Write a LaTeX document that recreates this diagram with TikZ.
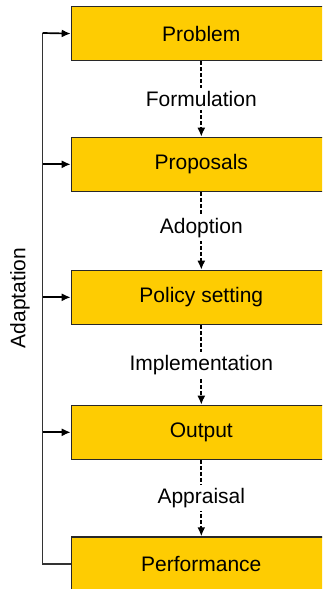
\documentclass[tikz,border=0pt]{standalone}
\usepackage{fontspec}
\setmainfont{Liberation Sans}
\usetikzlibrary{arrows.meta}
\definecolor{boxyellow}{RGB}{254,204,2}
\definecolor{boxedge}{RGB}{40,40,40}
\begin{document}
\begin{tikzpicture}[x=1pt,y=-1pt,
  stagebox/.style={draw=boxedge,line width=1.2pt,fill=boxyellow,minimum width=260pt,
    minimum height=54pt,anchor=north west,inner sep=0pt,
    font=\fontsize{21}{25}\selectfont},
  flow/.style={line width=1.7pt,dash pattern=on 4pt off 2pt,
    -{Latex[length=9pt,width=8pt]}},
  flowlabel/.style={fill=white,inner sep=3pt,font=\fontsize{21}{25}\selectfont},
  feed/.style={line width=1.7pt,-{Latex[length=9pt,width=8pt]}},
  rail/.style={line width=1.2pt,draw=black!80}]
\useasboundingbox (0,0) rectangle (322,589);
\clip (0,0) rectangle (322,589);
% stages of the policy cycle
\node[stagebox] (prob) at (70.7,6) {Problem};
\node[stagebox] (prop) at (70.7,136.7) {Proposals};
\node[stagebox] (pol)  at (70.7,269.7) {Policy setting};
\node[stagebox] (out)  at (70.7,404.7) {Output};
\node[stagebox] (perf) at (70.7,536.3) {Performance};
% forward transitions
\draw[flow] (prob.south) -- node[flowlabel]{Formulation} (prop.north);
\draw[flow] (prop.south) -- node[flowlabel,yshift=3pt]{Adoption} (pol.north);
\draw[flow] (pol.south) -- node[flowlabel]{Implementation} (out.north);
\draw[flow] (out.south) -- node[flowlabel]{Appraisal} (perf.north);
% feedback rail
\coordinate (railtop) at (42.7,33);
\draw[rail] (perf.west) -| (railtop);
\draw[feed] (railtop) -- (prob.west);
\draw[feed] (railtop |- prop.west) -- (prop.west);
\draw[feed] (railtop |- pol.west) -- (pol.west);
\draw[feed] (railtop |- out.west) -- (out.west);
\node[rotate=90,font=\fontsize{21}{25}\selectfont] (adapt) at (20,298) {Adaptation};
\end{tikzpicture}
\end{document}
